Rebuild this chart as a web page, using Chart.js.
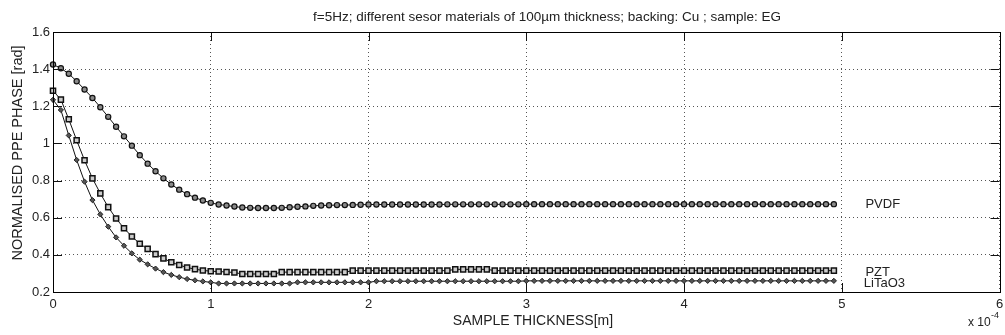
<!DOCTYPE html>
<html>
<head>
<meta charset="utf-8">
<title>PPE phase vs sample thickness</title>
<script src="https://cdn.jsdelivr.net/npm/chart.js@4.4.0/dist/chart.umd.min.js"></script>
<style>
  html, body { margin: 0; padding: 0; background: #fff; }
  #wrap { width: 1005px; height: 335px; }
</style>
</head>
<body>
<div id="wrap"><canvas id="phase-chart" width="1005" height="335"></canvas></div>
<script>
// sample thickness, in units of 1e-4 m
const thickness = [
  0.00, 0.05, 0.10, 0.15, 0.20, 0.25, 0.30, 0.35, 0.40, 0.45,
  0.50, 0.55, 0.60, 0.65, 0.70, 0.75, 0.80, 0.85, 0.90, 0.95,
  1.00, 1.05, 1.10, 1.15, 1.20, 1.25, 1.30, 1.35, 1.40, 1.45,
  1.50, 1.55, 1.60, 1.65, 1.70, 1.75, 1.80, 1.85, 1.90, 1.95,
  2.00, 2.05, 2.10, 2.15, 2.20, 2.25, 2.30, 2.35, 2.40, 2.45,
  2.50, 2.55, 2.60, 2.65, 2.70, 2.75, 2.80, 2.85, 2.90, 2.95,
  3.00, 3.05, 3.10, 3.15, 3.20, 3.25, 3.30, 3.35, 3.40, 3.45,
  3.50, 3.55, 3.60, 3.65, 3.70, 3.75, 3.80, 3.85, 3.90, 3.95,
  4.00, 4.05, 4.10, 4.15, 4.20, 4.25, 4.30, 4.35, 4.40, 4.45,
  4.50, 4.55, 4.60, 4.65, 4.70, 4.75, 4.80, 4.85, 4.90, 4.95
];

// normalised PPE phase [rad] for each sensor material
const pvdf = [
  1.425, 1.405, 1.375, 1.335, 1.290, 1.245, 1.195, 1.143, 1.090, 1.038,
  0.988, 0.937, 0.891, 0.850, 0.812, 0.779, 0.751, 0.727, 0.708, 0.693,
  0.680, 0.671, 0.666, 0.660, 0.655, 0.653, 0.652, 0.652, 0.652, 0.653,
  0.656, 0.659, 0.661, 0.664, 0.666, 0.667, 0.668, 0.668, 0.669, 0.670,
  0.671, 0.671, 0.671, 0.671, 0.671, 0.671, 0.671, 0.671, 0.671, 0.671,
  0.672, 0.672, 0.672, 0.672, 0.672, 0.672, 0.672, 0.672, 0.672, 0.672,
  0.673, 0.673, 0.673, 0.673, 0.673, 0.673, 0.673, 0.673, 0.673, 0.673,
  0.673, 0.673, 0.673, 0.673, 0.673, 0.673, 0.673, 0.673, 0.673, 0.673,
  0.673, 0.673, 0.673, 0.673, 0.673, 0.673, 0.673, 0.673, 0.673, 0.673,
  0.673, 0.673, 0.673, 0.673, 0.673, 0.673, 0.673, 0.673, 0.673, 0.673
];
const pzt = [
  1.284, 1.236, 1.130, 1.017, 0.909, 0.812, 0.731, 0.657, 0.596, 0.543,
  0.499, 0.460, 0.432, 0.404, 0.381, 0.360, 0.345, 0.332, 0.323, 0.316,
  0.312, 0.310, 0.308, 0.305, 0.297, 0.297, 0.297, 0.297, 0.297, 0.307,
  0.307, 0.307, 0.307, 0.307, 0.307, 0.307, 0.307, 0.307, 0.315, 0.315,
  0.315, 0.315, 0.315, 0.315, 0.315, 0.315, 0.315, 0.315, 0.315, 0.315,
  0.315, 0.322, 0.322, 0.322, 0.322, 0.322, 0.315, 0.315, 0.315, 0.315,
  0.315, 0.315, 0.315, 0.315, 0.315, 0.315, 0.315, 0.315, 0.315, 0.315,
  0.315, 0.315, 0.315, 0.315, 0.315, 0.315, 0.315, 0.315, 0.315, 0.315,
  0.315, 0.315, 0.315, 0.315, 0.315, 0.315, 0.315, 0.315, 0.315, 0.315,
  0.315, 0.315, 0.315, 0.315, 0.315, 0.315, 0.315, 0.315, 0.315, 0.315
];
const litao3 = [
  1.235, 1.180, 1.043, 0.911, 0.794, 0.695, 0.618, 0.552, 0.494, 0.449,
  0.408, 0.374, 0.349, 0.326, 0.307, 0.292, 0.280, 0.270, 0.263, 0.257,
  0.252, 0.246, 0.246, 0.246, 0.246, 0.246, 0.246, 0.246, 0.246, 0.246,
  0.246, 0.252, 0.252, 0.252, 0.252, 0.252, 0.252, 0.252, 0.252, 0.252,
  0.252, 0.258, 0.258, 0.258, 0.258, 0.258, 0.258, 0.258, 0.258, 0.258,
  0.258, 0.258, 0.258, 0.258, 0.258, 0.258, 0.258, 0.258, 0.258, 0.258,
  0.260, 0.260, 0.260, 0.260, 0.260, 0.260, 0.260, 0.260, 0.260, 0.260,
  0.260, 0.260, 0.260, 0.260, 0.260, 0.260, 0.260, 0.260, 0.260, 0.260,
  0.260, 0.260, 0.260, 0.260, 0.260, 0.260, 0.260, 0.260, 0.260, 0.260,
  0.260, 0.260, 0.260, 0.260, 0.260, 0.260, 0.260, 0.260, 0.260, 0.260
];

// axis ticks
const xTicks = [0, 1, 2, 3, 4, 5, 6];
const yTicks = [0.2, 0.4, 0.6, 0.8, 1.0, 1.2, 1.4, 1.6];

const chartTitle = "f=5Hz; different sesor materials of 100\u00b5m thickness; backing: Cu ; sample: EG";
const xTitle = "SAMPLE THICKNESS[m]";
const yTitle = "NORMALISED PPE PHASE [rad]";

// curve labels written at the right end of each curve
const curveLabels = [
  { text: "PVDF", x: 5.15, y: 0.673 },
  { text: "PZT", x: 5.15, y: 0.307 },
  { text: "LiTaO3", x: 5.14, y: 0.247 }
];

const FONT = "'Liberation Sans', Arial, sans-serif";
const TEXT = "#222";

function toPoints(values) {
  return thickness.map((t, i) => ({ x: t, y: values[i] }));
}

// MATLAB style box, inward ticks and the free text around the plot
const matlabFrame = {
  id: "matlabFrame",
  afterDraw(chart) {
    const ctx = chart.ctx;
    const area = chart.chartArea;
    const xs = chart.scales.x;
    const ys = chart.scales.y;
    ctx.save();

    // ticks pointing into the plot, on all four sides
    ctx.strokeStyle = "#111";
    ctx.lineWidth = 1;
    ctx.beginPath();
    xTicks.forEach(v => {
      const px = Math.round(xs.getPixelForValue(v)) + 0.5;
      ctx.moveTo(px, area.bottom); ctx.lineTo(px, area.bottom - 9);
      ctx.moveTo(px, area.top); ctx.lineTo(px, area.top + 9);
    });
    yTicks.forEach(v => {
      const py = Math.round(ys.getPixelForValue(v)) + 0.5;
      ctx.moveTo(area.left, py); ctx.lineTo(area.left + 9, py);
      ctx.moveTo(area.right, py); ctx.lineTo(area.right - 9, py);
    });
    ctx.stroke();

    // box round the axes
    ctx.strokeStyle = "#000";
    ctx.strokeRect(Math.round(area.left) + 0.5, Math.round(area.top) + 0.5,
      Math.round(area.right - area.left), Math.round(area.bottom - area.top));

    ctx.fillStyle = TEXT;

    // title
    ctx.font = "13.5px " + FONT;
    ctx.textAlign = "center";
    ctx.textBaseline = "alphabetic";
    ctx.fillText(chartTitle, 547, 21);

    // x axis title
    ctx.font = "14px " + FONT;
    ctx.textBaseline = "middle";
    ctx.fillText(xTitle, 533, 321);

    // y axis title
    ctx.save();
    ctx.font = "14.5px " + FONT;
    ctx.translate(18, 153);
    ctx.rotate(-Math.PI / 2);
    ctx.fillText(yTitle, 0, 0);
    ctx.restore();

    // exponent under the x axis
    ctx.font = "12px " + FONT;
    ctx.textAlign = "left";
    ctx.fillText("x 10", 968, 323);
    ctx.font = "9px " + FONT;
    ctx.fillText("-4", 991, 316);

    // curve names
    ctx.font = "13px " + FONT;
    curveLabels.forEach(l => {
      ctx.fillText(l.text, xs.getPixelForValue(l.x), ys.getPixelForValue(l.y));
    });

    ctx.restore();
  }
};

const ctx = document.getElementById("phase-chart").getContext("2d");
const phaseChart = new Chart(ctx, {
  type: "line",
  data: {
    datasets: [
      {
        label: "PVDF",
        data: toPoints(pvdf),
        borderColor: "#111",
        borderWidth: 1,
        pointStyle: "circle",
        pointRadius: 2.6,
        pointBackgroundColor: "#8a8a8a",
        pointBorderColor: "#111",
        pointBorderWidth: 1.2,
        clip: false
      },
      {
        label: "PZT",
        data: toPoints(pzt),
        borderColor: "#111",
        borderWidth: 1,
        pointStyle: "rect",
        pointRadius: 3.6,
        pointBackgroundColor: "#ccc",
        pointBorderColor: "#111",
        pointBorderWidth: 1.5,
        clip: false
      },
      {
        label: "LiTaO3",
        data: toPoints(litao3),
        borderColor: "#111",
        borderWidth: 1,
        pointStyle: "rectRot",
        pointRadius: 2.6,
        pointBackgroundColor: "#555",
        pointBorderColor: "#222",
        pointBorderWidth: 1,
        clip: false
      }
    ]
  },
  options: {
    responsive: false,
    devicePixelRatio: 1,
    animation: false,
    events: [],
    layout: { padding: { top: 32, right: 2, left: 0, bottom: 0 } },
    plugins: {
      legend: { display: false },
      tooltip: { enabled: false },
      title: { display: false }
    },
    scales: {
      x: {
        type: "linear",
        min: 0,
        max: 6,
        afterBuildTicks: s => { s.ticks = xTicks.map(v => ({ value: v })); },
        afterFit: s => { s.height = 43; s.paddingLeft = 0; s.paddingRight = 0; },
        ticks: {
          color: TEXT,
          font: { family: FONT, size: 13 },
          padding: 5,
          maxRotation: 0,
          callback: v => String(v)
        },
        grid: { color: "#555", lineWidth: 1, drawTicks: false },
        border: { display: false, dash: [1, 3] }
      },
      y: {
        type: "linear",
        min: 0.2,
        max: 1.6,
        afterBuildTicks: s => { s.ticks = yTicks.map(v => ({ value: v })); },
        afterFit: s => { s.width = 53; s.paddingTop = 0; s.paddingBottom = 0; },
        ticks: {
          color: TEXT,
          font: { family: FONT, size: 13 },
          padding: 3,
          callback: v => String(Math.round(v * 10) / 10)
        },
        grid: { color: "#555", lineWidth: 1, drawTicks: false },
        border: { display: false, dash: [1, 3] }
      }
    }
  },
  plugins: [matlabFrame]
});
</script>
</body>
</html>
